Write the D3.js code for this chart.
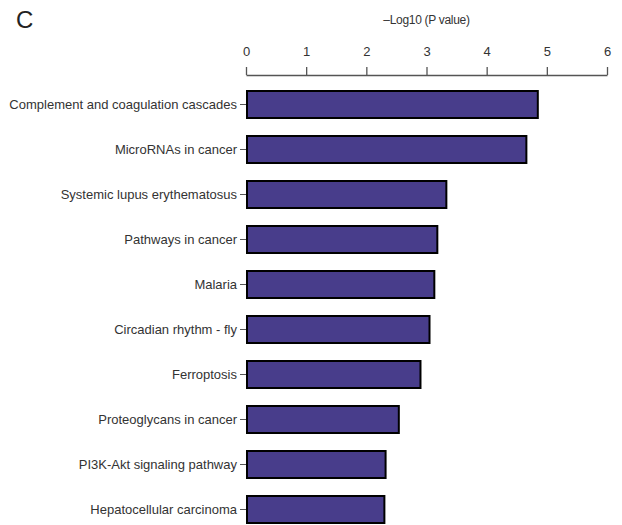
<!DOCTYPE html>
<html>
<head>
<meta charset="utf-8">
<script src="https://cdn.jsdelivr.net/npm/d3@7"></script>
<style>
  html, body { margin: 0; padding: 0; background: #fff; }
  svg { display: block; }
  text { font-family: "Liberation Sans", Arial, sans-serif; }
</style>
</head>
<body>
<div id="chart"></div>
<script>
// KEGG pathways ranked by enrichment significance
const pathways = [
  "Complement and coagulation cascades",
  "MicroRNAs in cancer",
  "Systemic lupus erythematosus",
  "Pathways in cancer",
  "Malaria",
  "Circadian rhythm - fly",
  "Ferroptosis",
  "Proteoglycans in cancer",
  "PI3K-Akt signaling pathway",
  "Hepatocellular carcinoma"
];
const negLogP = [4.85, 4.66, 3.33, 3.18, 3.13, 3.05, 2.90, 2.54, 2.32, 2.30];
const xTicks = [0, 1, 2, 3, 4, 5, 6];
const axisTitle = "\u2013Log10 (P value)";
const panelLetter = "C";

const width = 622, height = 525;
const svg = d3.select("#chart").append("svg")
  .attr("width", width).attr("height", height);

const x = d3.scaleLinear().domain([0, 6]).range([246, 607]);
const y = d3.scaleBand().domain(pathways).range([82, 532])
  .paddingInner(0.4).paddingOuter(0.2);

// panel letter
svg.append("text")
  .attr("x", 16).attr("y", 28)
  .attr("font-family", "Lato, 'Open Sans', sans-serif")
  .attr("font-size", 24).attr("font-weight", 300)
  .attr("fill", "#222")
  .text(panelLetter);

// axis title
svg.append("text")
  .attr("x", (x(0) + x(6)) / 2).attr("y", 24)
  .attr("text-anchor", "middle")
  .attr("font-size", 12).attr("fill", "#333")
  .attr("letter-spacing", -0.3)
  .text(axisTitle);

// top value axis
const xAxis = svg.append("g")
  .attr("transform", "translate(0,75)")
  .call(d3.axisTop(x).tickValues(xTicks).tickFormat(d3.format("d"))
    .tickSize(8).tickSizeOuter(0).tickPadding(11));
xAxis.select(".domain").attr("stroke", "#555").attr("stroke-width", 1.5);
xAxis.selectAll(".tick line").attr("stroke", "#555").attr("stroke-width", 1.3);
xAxis.selectAll(".tick text")
  .attr("font-size", 13).attr("fill", "#333")
  .attr("font-family", "'Liberation Sans', Arial, sans-serif");

// category axis
const yAxis = svg.append("g")
  .attr("transform", `translate(${x(0)},0)`)
  .call(d3.axisLeft(y).tickSize(6).tickPadding(3));
yAxis.select(".domain").remove();
yAxis.selectAll(".tick line").attr("stroke", "#555").attr("stroke-width", 1);
yAxis.selectAll(".tick text")
  .attr("font-size", 13).attr("fill", "#333")
  .attr("font-family", "'Liberation Sans', Arial, sans-serif");

// bars
svg.append("g").selectAll("rect")
  .data(pathways)
  .join("rect")
  .attr("x", x(0) + 1)
  .attr("y", d => y(d))
  .attr("width", (d, i) => x(negLogP[i]) - x(0) - 1)
  .attr("height", y.bandwidth())
  .attr("fill", "#483d8b")
  .attr("stroke", "#000")
  .attr("stroke-width", 2);
</script>
</body>
</html>
